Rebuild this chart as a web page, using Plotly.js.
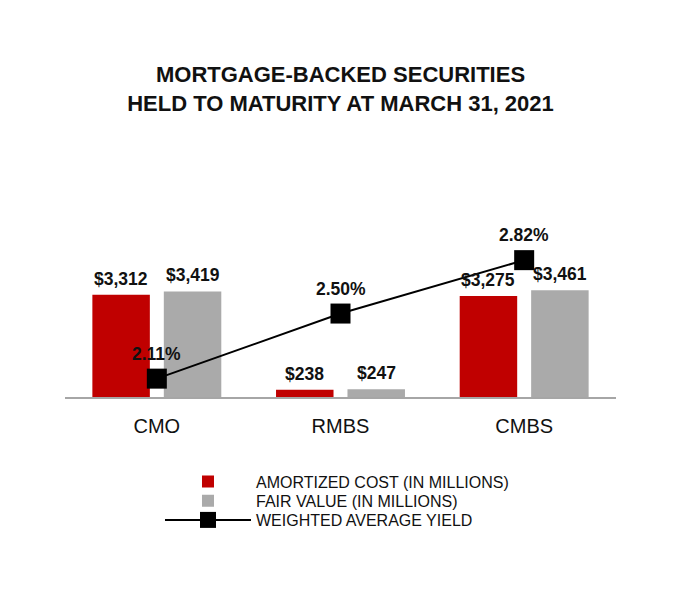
<!DOCTYPE html>
<html>
<head>
<meta charset="utf-8">
<script src="https://cdn.plot.ly/plotly-3.0.1.min.js"></script>
<style>
  html, body { margin: 0; padding: 0; background: #ffffff; }
  #chart { width: 680px; height: 600px; }
</style>
</head>
<body>
<div id="chart"></div>
<script>
// values
var categories = ['CMO', 'RMBS', 'CMBS'];
var amortizedCost = [3312, 238, 3275];
var fairValue = [3419, 247, 3461];
var weightedYield = [2.11, 2.50, 2.82];

var seriesNames = ['AMORTIZED COST (IN MILLIONS)', 'FAIR VALUE (IN MILLIONS)', 'WEIGHTED AVERAGE YIELD'];

var FONT = 'Liberation Sans, Arial, sans-serif';
var RED = '#c00000', GREY = '#aaaaaa', INK = '#111111';

// bars sit side by side inside each category slot
var barWidth = 0.313;
var costOffset = -0.351, fairOffset = 0.038;

var idx = categories.map(function(c, i) { return i; });

function money(v) {
    return '$' + v.toLocaleString('en-US');
}

var data = [
    {
        type: 'bar',
        name: seriesNames[0],
        legend: 'legend',
        x: idx,
        y: amortizedCost,
        width: barWidth,
        offset: costOffset,
        marker: {color: RED},
        hoverinfo: 'skip'
    },
    {
        type: 'bar',
        name: seriesNames[1],
        legend: 'legend2',
        x: idx,
        y: fairValue,
        width: barWidth,
        offset: fairOffset,
        marker: {color: GREY},
        hoverinfo: 'skip'
    },
    {
        type: 'scatter',
        mode: 'lines+markers',
        name: seriesNames[2],
        legend: 'legend3',
        x: idx,
        y: weightedYield,
        yaxis: 'y2',
        line: {color: '#000000', width: 2},
        marker: {color: '#000000', symbol: 'square', size: 20},
        hoverinfo: 'skip'
    }
];

var annotations = [];
var labelFont = {family: FONT, size: 17.5, color: INK, weight: 'bold'};

idx.forEach(function(i) {
    annotations.push({
        x: i + costOffset + barWidth / 2, y: amortizedCost[i], xref: 'x', yref: 'y',
        text: money(amortizedCost[i]), showarrow: false,
        yanchor: 'middle', yshift: 16, font: labelFont
    });
    annotations.push({
        x: i + fairOffset + barWidth / 2, y: fairValue[i], xref: 'x', yref: 'y',
        text: money(fairValue[i]), showarrow: false,
        yanchor: 'middle', yshift: 16, font: labelFont
    });
    annotations.push({
        x: i, y: weightedYield[i], xref: 'x', yref: 'y2',
        text: weightedYield[i].toFixed(2) + '%', showarrow: false,
        yanchor: 'middle', yshift: 25, font: labelFont
    });
});

// one legend box per row so the rows can sit as tight as in the original
function legendBox(y) {
    return {
        orientation: 'v',
        x: 0.1724, xanchor: 'left',
        y: y, yanchor: 'middle',
        itemwidth: 86,
        font: {family: FONT, size: 16, color: INK},
        bgcolor: 'rgba(0,0,0,0)',
        borderwidth: 0
    };
}

var layout = {
    width: 680,
    height: 600,
    paper_bgcolor: '#ffffff',
    plot_bgcolor: '#ffffff',
    margin: {l: 65, r: 64, t: 150, b: 203, pad: 0},
    font: {family: FONT, color: INK},
    title: {
        text: 'MORTGAGE-BACKED SECURITIES<br>HELD TO MATURITY AT MARCH 31, 2021',
        font: {family: FONT, size: 22, color: INK, weight: 'bold'},
        x: 0.5, xref: 'paper',
        y: 1 - 82 / 600, yref: 'container', yanchor: 'top'
    },
    xaxis: {
        type: 'linear',
        range: [-0.5, 2.5],
        tickvals: idx,
        ticktext: categories,
        showgrid: false,
        zeroline: false,
        showline: true,
        linecolor: '#a6a6a6',
        linewidth: 2,
        ticks: '',
        ticklabelstandoff: 10,
        tickfont: {family: FONT, size: 20, color: INK}
    },
    yaxis: {
        range: [0, 8000],
        showgrid: false,
        zeroline: false,
        showline: false,
        showticklabels: false,
        ticks: ''
    },
    yaxis2: {
        range: [2.0, 3.48],
        overlaying: 'y',
        side: 'right',
        showgrid: false,
        zeroline: false,
        showline: false,
        showticklabels: false,
        ticks: ''
    },
    showlegend: true,
    legend: legendBox(-0.343),
    legend2: legendBox(-0.420),
    legend3: legendBox(-0.498),
    annotations: annotations
};

Plotly.newPlot('chart', data, layout, {staticPlot: true, displayModeBar: false});
</script>
</body>
</html>
